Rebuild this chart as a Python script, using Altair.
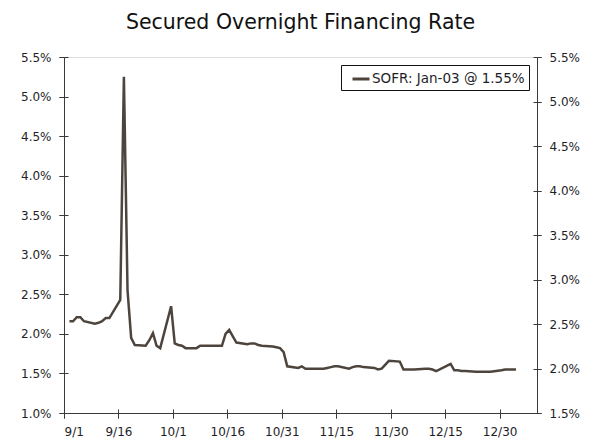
import altair as alt
import pandas as pd

# ---- data ----
dates = [
    "2019-09-02", "2019-09-03", "2019-09-04", "2019-09-05", "2019-09-06",
    "2019-09-09", "2019-09-10", "2019-09-11", "2019-09-12", "2019-09-13",
    "2019-09-16", "2019-09-17", "2019-09-18", "2019-09-19", "2019-09-20",
    "2019-09-23", "2019-09-24", "2019-09-25", "2019-09-26", "2019-09-27",
    "2019-09-30", "2019-10-01", "2019-10-02", "2019-10-03", "2019-10-04",
    "2019-10-07", "2019-10-08", "2019-10-09", "2019-10-10", "2019-10-11",
    "2019-10-14", "2019-10-15", "2019-10-16", "2019-10-17", "2019-10-18",
    "2019-10-21", "2019-10-22", "2019-10-23", "2019-10-24", "2019-10-25",
    "2019-10-28", "2019-10-29", "2019-10-30", "2019-10-31", "2019-11-01",
    "2019-11-04", "2019-11-05", "2019-11-06", "2019-11-07", "2019-11-08",
    "2019-11-11", "2019-11-12", "2019-11-13", "2019-11-14", "2019-11-15",
    "2019-11-18", "2019-11-19", "2019-11-20", "2019-11-21", "2019-11-22",
    "2019-11-25", "2019-11-26", "2019-11-27", "2019-11-29",
    "2019-12-02", "2019-12-03", "2019-12-04", "2019-12-05", "2019-12-06",
    "2019-12-09", "2019-12-10", "2019-12-11", "2019-12-12", "2019-12-13",
    "2019-12-16", "2019-12-17", "2019-12-18", "2019-12-19", "2019-12-20",
    "2019-12-23", "2019-12-24", "2019-12-26", "2019-12-27",
    "2019-12-30", "2019-12-31", "2020-01-02", "2020-01-03",
]
sofr = [
    2.16, 2.16, 2.21, 2.21, 2.16,
    2.13, 2.14, 2.16, 2.20, 2.20,
    2.43, 5.25, 2.55, 1.95, 1.86,
    1.85, 1.92, 2.01, 1.85, 1.82,
    2.35, 1.88, 1.86, 1.85, 1.82,
    1.82, 1.85, 1.85, 1.85, 1.85,
    1.85, 2.00, 2.05, 1.97, 1.89,
    1.87, 1.88, 1.88, 1.86, 1.85,
    1.84, 1.83, 1.82, 1.77, 1.59,
    1.57, 1.59, 1.56, 1.56, 1.56,
    1.56, 1.57, 1.58, 1.59, 1.59,
    1.56, 1.58, 1.59, 1.59, 1.58,
    1.57, 1.55, 1.56, 1.66,
    1.65, 1.55, 1.55, 1.55, 1.55,
    1.56, 1.56, 1.55, 1.53, 1.55,
    1.62, 1.54, 1.54, 1.53, 1.53,
    1.52, 1.52, 1.52, 1.52,
    1.54, 1.55, 1.55, 1.55,
]
legend_label = "SOFR: Jan-03 @ 1.55%"
title_text = "Secured Overnight Financing Rate"
left_ticks = [1.0, 1.5, 2.0, 2.5, 3.0, 3.5, 4.0, 4.5, 5.0, 5.5]
right_ticks = [1.5, 2.0, 2.5, 3.0, 3.5, 4.0, 4.5, 5.0, 5.5]
x_tick_dates = ["2019-09-01", "2019-09-16", "2019-10-01", "2019-10-16",
                "2019-10-31", "2019-11-15", "2019-11-30", "2019-12-15",
                "2019-12-30"]
x_start = "2019-09-01"
x_end = "2020-01-09T07:00"

# ---- build table ----
df = pd.DataFrame({
    "date": [d + "T12:00:00Z" for d in dates],
    "rate": sofr,
    "series": [legend_label] * len(dates),
})


def dt(s):
    t = pd.Timestamp(s)
    return alt.DateTime(year=t.year, month=t.month, date=t.day,
                        hours=t.hour, utc=True)


FONT = "DejaVu Sans"
LINE = "#4d453d"
AX = "#3a3a3a"
LBL = "#1e1e28"

xscale = alt.Scale(type="utc", domain=[dt(x_start), dt(x_end)])
yl = alt.Scale(domain=[1.0, 5.5], nice=False, zero=False)
yr = alt.Scale(domain=[1.5, 5.5], nice=False, zero=False)
xvals = [dt(s) for s in x_tick_dates]
pct = "format(datum.value, '.1f') + '%'"

common = dict(grid=False, title=None, domainColor=AX, tickColor=AX,
              labelFont=FONT, labelFontSize=12, labelColor=LBL,
              domainWidth=1, tickWidth=1)

x_main = alt.Axis(orient="bottom", values=xvals, tickSize=5, labelPadding=8,
                  labelExpr="utcFormat(datum.value, '%-m/%-d')", **common)
x_in = alt.Axis(orient="bottom", values=xvals, tickSize=9, offset=-4,
                labels=False, domain=False, grid=False, title=None,
                tickColor=AX, tickWidth=1)
yl_main = alt.Axis(orient="left", values=left_ticks, tickSize=5,
                   labelPadding=8, labelExpr=pct, **common)
yl_in = alt.Axis(orient="left", values=left_ticks, tickSize=9, offset=-4,
                 labels=False, domain=False, grid=False, title=None,
                 tickColor=AX, tickWidth=1)
yr_main = alt.Axis(orient="right", values=right_ticks, tickSize=4,
                   labelPadding=8, labelExpr=pct, **common)
yr_in = alt.Axis(orient="right", values=right_ticks, tickSize=8, offset=-4,
                 labels=False, domain=False, grid=False, title=None,
                 tickColor=AX, tickWidth=1)

base = alt.Chart(df)

line = base.mark_line(strokeWidth=2.5).encode(
    x=alt.X("date:T", scale=xscale, axis=x_main),
    y=alt.Y("rate:Q", scale=yl, axis=yl_main),
    color=alt.Color(
        "series:N",
        scale=alt.Scale(domain=[legend_label], range=[LINE]),
        legend=alt.Legend(
            title=None, orient="top-right", offset=8,
            strokeColor="#111", fillColor="white", padding=4,
            symbolType="stroke", symbolStrokeWidth=3, symbolSize=289,
            symbolOffset=6,
            labelFont=FONT, labelFontSize=13.5, labelColor=LBL, labelOffset=1,
        ),
    ),
)

ticks_left_in = base.mark_line(opacity=0).encode(
    x=alt.X("date:T", scale=xscale, axis=x_in),
    y=alt.Y("rate:Q", scale=yl, axis=yl_in),
)
right_axis = base.mark_line(opacity=0).encode(
    x=alt.X("date:T", scale=xscale, axis=None),
    y=alt.Y("rate:Q", scale=yr, axis=yr_main),
)
right_in = base.mark_line(opacity=0).encode(
    x=alt.X("date:T", scale=xscale, axis=None),
    y=alt.Y("rate:Q", scale=yr, axis=yr_in),
)

chart = (
    alt.layer(line, ticks_left_in, right_axis, right_in)
    .resolve_scale(y="independent")
    .resolve_axis(x="independent", y="independent")
    .properties(
        width=473, height=356,
        padding={"left": 56, "top": 49, "right": 55, "bottom": 25},
        autosize=alt.AutoSizeParams(type="none"),
        title=alt.TitleParams(title_text, font=FONT, fontSize=20.5,
                              fontWeight="normal", color="#111",
                              anchor="middle", offset=18),
    )
    .configure_view(stroke=AX, strokeWidth=1)
    .configure(background="white")
)

chart.save("out.html", embed_options={"renderer": "svg", "actions": False})
